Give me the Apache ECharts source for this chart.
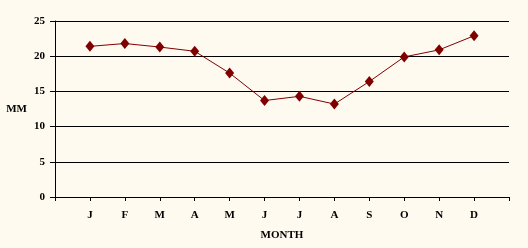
<!DOCTYPE html>
<html><head><meta charset="utf-8">
<script src="https://cdn.jsdelivr.net/npm/echarts@6/dist/echarts.min.js"></script>
<style>html,body{margin:0;padding:0;background:#FFFAF0;}#c{width:528px;height:248px;}</style>
</head><body><div id="c"></div>
<script>
const months = ['J','F','M','A','M','J','J','A','S','O','N','D'];
const values = [21.4, 21.8, 21.3, 20.7, 17.6, 13.7, 14.3, 13.2, 16.4, 19.9, 20.9, 22.9];
const yTicks = [0, 5, 10, 15, 20, 25];

const cats = [''].concat(months, ['']);
const data = [null].concat(values, [null]);
const font = {fontFamily: 'Liberation Serif', fontWeight: 'bold', fontSize: 11, color: '#000'};

const chart = echarts.init(document.getElementById('c'), null, {renderer: 'canvas'});
chart.setOption({
  backgroundColor: '#FFFAF0',
  animation: false,
  grid: {left: 55, right: 19, top: 21, bottom: 51, containLabel: false},
  xAxis: {
    type: 'category', data: cats, boundaryGap: false,
    name: 'MONTH', nameLocation: 'middle', nameGap: 33,
    nameTextStyle: font,
    axisLine: {lineStyle: {color: '#000', width: 1}},
    axisTick: {show: true, length: 4, interval: 0, lineStyle: {color: '#000'}},
    axisLabel: Object.assign({interval: 0, margin: 13}, font),
    splitLine: {show: false}
  },
  yAxis: {
    type: 'value', min: yTicks[0], max: yTicks[yTicks.length-1], interval: 5,
    name: 'MM', nameLocation: 'middle', nameGap: 28, nameRotate: 0,
    nameTextStyle: font,
    axisLine: {show: true, lineStyle: {color: '#000', width: 1}},
    axisTick: {show: true, length: 5, lineStyle: {color: '#000'}},
    axisLabel: Object.assign({margin: 10}, font),
    splitLine: {show: true, lineStyle: {color: '#000', width: 1}}
  },
  series: [{
    type: 'line', data: data, connectNulls: false,
    symbol: 'diamond', symbolSize: [9, 11],
    lineStyle: {color: '#800000', width: 1},
    itemStyle: {color: '#800000'}
  }]
});
</script></body></html>
